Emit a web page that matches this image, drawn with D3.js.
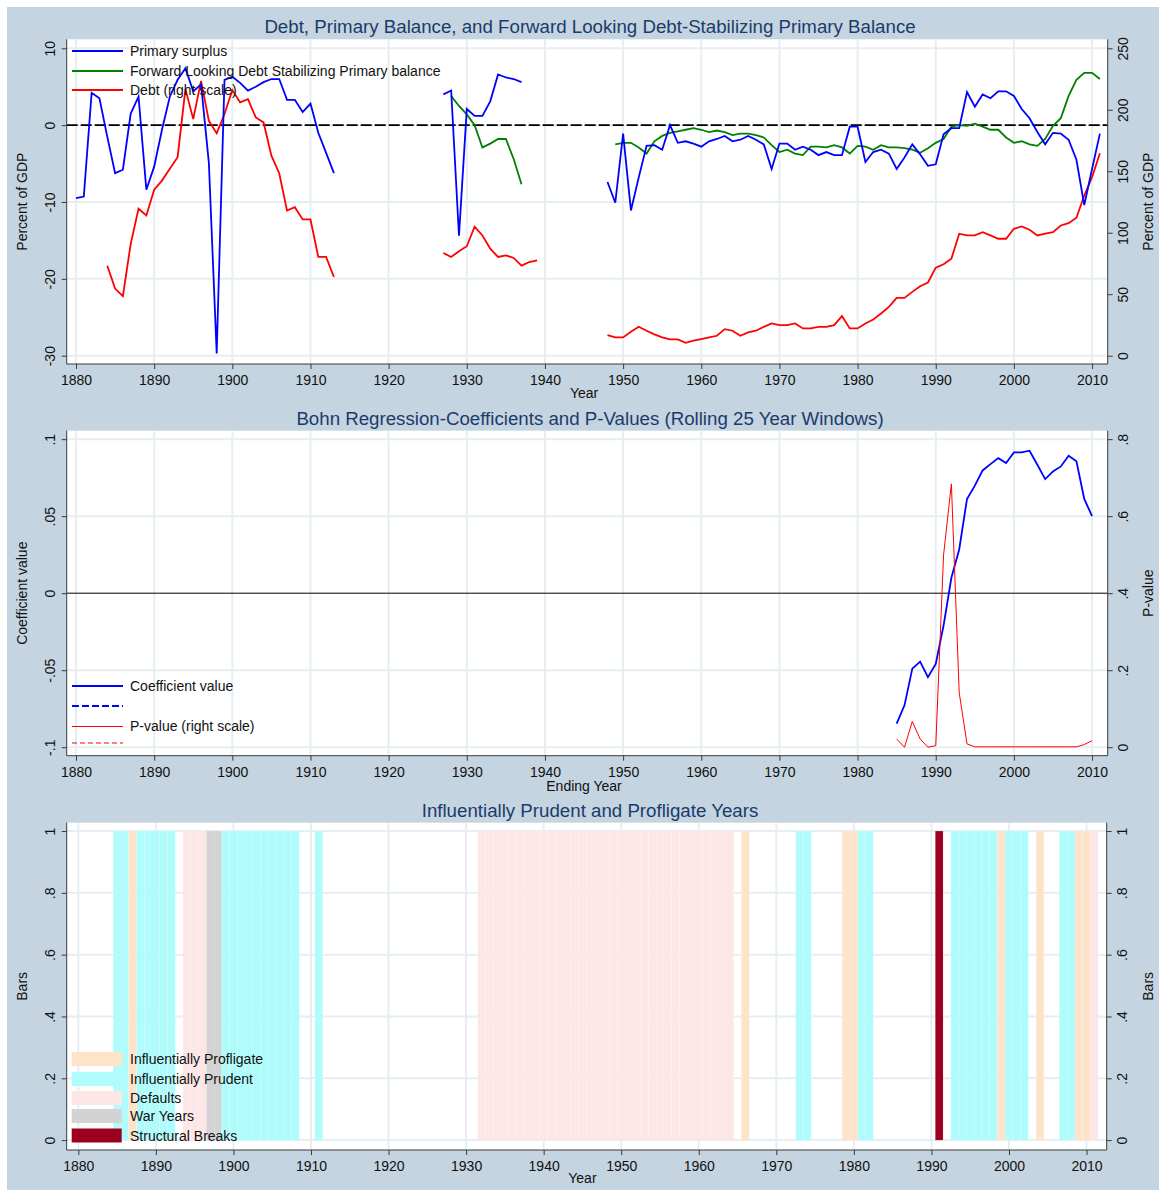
<!DOCTYPE html>
<html><head><meta charset="utf-8">
<script src="https://cdn.jsdelivr.net/npm/d3@7"></script>
<style>
body{margin:0;background:#fff;}
svg{display:block;}
text{font-family:"Liberation Sans",Arial,Helvetica,sans-serif;}
</style>
</head><body>
<svg id="chart" width="1159" height="1190"></svg>
<script>
// ---------------- DATA ----------------
const yearStart = 1880; // first year of the annual series below (1880..2011)

const primarySurplus = [
 -9.5,-9.3,4.2,3.5,-1.5,-6.25,-5.8,1.5,3.7,-8.4,            // 1880-1889
 -5.4,-0.6,3.7,5.9,7.4,4.4,5.3,-4.9,-29.7,5.9,               // 1890-1899
 6.3,5.5,4.5,5.0,5.6,6.0,6.0,3.3,3.3,1.7,                    // 1900-1909
 2.8,-1.0,-3.6,-6.25,null,null,null,null,null,null,          // 1910-1919
 null,null,null,null,null,null,null,4.0,4.5,-14.4,           // 1920-1929
 2.1,1.2,1.2,3.1,6.6,6.2,6.0,5.6,null,null,                  // 1930-1939
 null,null,null,null,null,null,null,null,-7.4,-10.1,         // 1940-1949
 -1.1,-11.1,-6.8,-2.7,-2.6,-3.2,0,-2.3,-2.1,-2.4,            // 1950-1959
 -2.8,-2.1,-1.8,-1.4,-2.1,-1.9,-1.4,-1.9,-2.5,-5.7,          // 1960-1969
 -2.4,-2.4,-3.2,-2.8,-3.2,-3.9,-3.5,-3.9,-3.9,-0.2,          // 1970-1979
 -0.2,-4.8,-3.5,-3.2,-3.7,-5.7,-4.2,-2.5,-3.8,-5.3,          // 1980-1989
 -5.1,-1.2,-0.4,-0.4,4.3,2.4,4.0,3.5,4.4,4.4,                // 1990-1999
 3.8,2.1,0.9,-0.9,-2.5,-1.0,-1.1,-1.9,-4.5,-10.4,            // 2000-2009
 -5.7,-1.1                                                   // 2010-2011
];

const forwardStabilizing = [
 null,null,null,null,null,null,null,null,null,null,          // 1880-1889
 null,null,null,null,null,null,null,null,null,null,          // 1890-1899
 null,null,null,null,null,null,null,null,null,null,          // 1900-1909
 null,null,null,null,null,null,null,null,null,null,          // 1910-1919
 null,null,null,null,null,null,null,null,3.8,2.5,            // 1920-1929
 1.4,0,-2.9,-2.4,-1.8,-1.8,-4.4,-7.7,null,null,              // 1930-1939
 null,null,null,null,null,null,null,null,null,-2.5,          // 1940-1949
 -2.3,-2.3,-2.9,-3.7,-2.1,-1.4,-1.0,-0.8,-0.6,-0.4,          // 1950-1959
 -0.6,-0.9,-0.7,-0.9,-1.3,-1.1,-1.1,-1.3,-1.6,-2.6,          // 1960-1969
 -3.5,-3.2,-3.7,-3.9,-2.8,-2.8,-2.9,-2.6,-2.9,-3.7,          // 1970-1979
 -2.7,-2.8,-3.2,-2.6,-2.9,-2.9,-3.0,-3.2,-3.6,-3.0,          // 1980-1989
 -2.3,-1.8,-0.2,0.0,-0.1,0.2,-0.2,-0.6,-0.6,-1.6,            // 1990-1999
 -2.3,-2.1,-2.5,-2.7,-1.8,-0.1,0.9,3.8,5.9,6.8,              // 2000-2009
 6.8,6.0                                                     // 2010-2011
];

const debtRatio = [
 null,null,null,null,73.2,54.6,48.4,91,119.5,114,            // 1880-1889
 135,142.4,152,161.4,216.8,192.4,223.5,191,180.8,196.5,      // 1890-1899
 216,206,208.6,193.8,189.7,162.7,148.4,118,120.8,110.8,      // 1900-1909
 110.8,80.3,80.3,64,null,null,null,null,null,null,           // 1910-1919
 null,null,null,null,null,null,null,83.5,80.3,85,            // 1920-1929
 89,105,97.8,87,80.3,81.6,79.5,73.2,76.2,77.6,               // 1930-1939
 null,null,null,null,null,null,null,null,16.8,14.9,          // 1940-1949
 14.9,19.5,23.5,20.3,17.3,14.9,13.2,13.2,10.5,12.2,          // 1950-1959
 13.5,14.9,16.2,21.6,20.3,16.2,18.9,20.3,23.5,26.2,          // 1960-1969
 24.9,24.9,26.2,22.2,22.2,23.5,23.5,24.9,32.2,22.2,          // 1970-1979
 22.2,26.2,29.5,34.3,39.7,47,47,51.9,56.5,59.5,              // 1980-1989
 71.6,74.3,78.9,99.2,97.8,97.8,100.5,97.8,95.1,95.1,         // 1990-1999
 103.2,105.1,102.4,97.8,99.2,100.5,105.9,107.8,112.2,130.3,  // 2000-2009
 145.1,164.6                                                 // 2010-2011
];

const rollingStart = 1985; // ending years of the rolling windows (1985..2010)
const bohnCoef = [
 -0.0847,-0.0728,-0.049,-0.0444,-0.0545,                     // 1985-1989
 -0.0459,-0.021,0.010,0.0284,0.0612,0.0698,0.0797,0.0838,0.0877,0.0845, // 1990-1999
 0.0914,0.0914,0.0925,0.0834,0.0741,0.0791,0.0823,0.0892,0.0856,0.0612, // 2000-2009
 0.05                                                        // 2010
];
const bohnPValue = [
 0.0215,0,0.067,0.0215,0,                                    // 1985-1989
 0.004,0.499,0.684,0.142,0.0086,0.001,0.001,0.001,0.001,0.001, // 1990-1999
 0.001,0.001,0.001,0.001,0.001,0.001,0.001,0.001,0.001,0.007,  // 2000-2009
 0.017                                                       // 2010
];

const profligateYears = [1887,1966,1979,1980,1999,2004,2009,2010];
const prudentYears = [1885,1886,1888,1889,1890,1891,1892,1899,1900,1901,1902,1903,1904,1905,1906,1907,1908,1911,
  1973,1974,1981,1982,1993,1994,1995,1996,1997,1998,2000,2001,2002,2007,2008];
const defaultYears = [1894,1895,1896,1932,1933,1934,1935,1936,1937,1938,1939,1940,1941,1942,1943,1944,1945,1946,1947,
  1948,1949,1950,1951,1952,1953,1954,1955,1956,1957,1958,1959,1960,1961,1962,1963,1964,2011];
const warYears = [1897,1898];
const breakYears = [1991];

const xTicks = [1880,1890,1900,1910,1920,1930,1940,1950,1960,1970,1980,1990,2000,2010];
const topLeftTicks = [-30,-20,-10,0,10];
const topRightTicks = [0,50,100,150,200,250];
const midLeftTicks = [-0.1,-0.05,0,0.05,0.1];
const midLeftLabels = ["-.1","-.05","0",".05",".1"];
const midRightTicks = [0,0.2,0.4,0.6,0.8];
const midRightLabels = ["0",".2",".4",".6",".8"];
const barTicks = [0,0.2,0.4,0.6,0.8,1];
const barLabels = ["0",".2",".4",".6",".8","1"];

// ---------------- STYLE ----------------
const BG = "rgb(196,212,224)";
const GRID = "#e6eef2";
const AXIS = "#3a3a3a";
const TITLE = "#1c3b6b";
const BLUE = "#0000ff", GREEN = "#008000", RED = "#ff0000";
const C_PROF = "#ffe3c9", C_PRUD = "#b0fcfc", C_DEF = "#fde6e6", C_WAR = "#d3d3d3", C_BRK = "#9b0020";

const svg = d3.select("#chart");
svg.append("rect").attr("x",0).attr("y",0).attr("width",1159).attr("height",1190).attr("fill","#fff");
svg.append("rect").attr("x",7).attr("y",7).attr("width",1152).attr("height",1183).attr("fill",BG);

function series(arr, start){ return arr.map((v,i)=>({year:start+i, v:v})); }

function panelFrame(o){
  const g = svg.append("g");
  g.append("rect").attr("x",o.left).attr("y",o.top).attr("width",o.right-o.left).attr("height",o.bottom-o.top).attr("fill","#fff");
  g.selectAll(".vg").data(xTicks).join("line")
    .attr("x1",d=>o.x(d)).attr("x2",d=>o.x(d)).attr("y1",o.top).attr("y2",o.bottom)
    .attr("stroke",GRID).attr("stroke-width",2);
  g.selectAll(".hg").data(o.gridY).join("line")
    .attr("x1",o.left).attr("x2",o.right).attr("y1",d=>o.yL(d)).attr("y2",d=>o.yL(d))
    .attr("stroke",GRID).attr("stroke-width",2);
  svg.append("text").attr("x",590).attr("y",o.titleY).attr("text-anchor","middle")
    .attr("font-size",18.7).attr("fill",TITLE).text(o.title);
  return g;
}

function drawAxes(o){
  const gx = svg.append("g").attr("transform",`translate(0,${o.bottom})`)
    .call(d3.axisBottom(o.x).tickValues(xTicks).tickFormat(d3.format("d")).tickSize(5).tickPadding(6).tickSizeOuter(0));
  gx.select(".domain").attr("d",`M${o.left},0H${o.right}`);
  const gl = svg.append("g").attr("transform",`translate(${o.left},0)`)
    .call(d3.axisLeft(o.yL).tickValues(o.lTicks).tickFormat((d,i)=>o.lLabels[i]).tickSize(5).tickSizeOuter(0));
  gl.select(".domain").attr("d",`M0,${o.top}V${o.bottom}`);
  gl.selectAll(".tick text").attr("transform","rotate(-90)").attr("x",0).attr("y",-12).attr("dy",null).attr("text-anchor","middle");
  const gr = svg.append("g").attr("transform",`translate(${o.right},0)`)
    .call(d3.axisRight(o.yR).tickValues(o.rTicks).tickFormat((d,i)=>o.rLabels[i]).tickSize(5).tickSizeOuter(0));
  gr.select(".domain").attr("d",`M0,${o.top}V${o.bottom}`);
  gr.selectAll(".tick text").attr("transform","rotate(-90)").attr("x",0).attr("y",20).attr("dy",null).attr("text-anchor","middle");
  [gx,gl,gr].forEach(a=>{
    a.attr("font-family",null).attr("font-size",null);
    a.selectAll("text").attr("font-size",14).attr("fill","#111");
    a.selectAll("line").attr("stroke",AXIS);
    a.select(".domain").attr("stroke",AXIS);
  });
  const cy = (o.top+o.bottom)/2;
  svg.append("text").attr("transform",`translate(27,${cy}) rotate(-90)`).attr("text-anchor","middle")
    .attr("font-size",14).attr("fill","#111").text(o.yLTitle);
  svg.append("text").attr("transform",`translate(1153,${cy}) rotate(-90)`).attr("text-anchor","middle")
    .attr("font-size",14).attr("fill","#111").text(o.yRTitle);
  svg.append("text").attr("x",(o.x(1880)+o.x(2010))/2).attr("y",o.xTitleY).attr("text-anchor","middle")
    .attr("font-size",14).attr("fill","#111").text(o.xTitle);
}

// ---------------- PANEL 1 ----------------
{
  const top=39.3, bottom=364, left=66.7, right=1107.7;
  const x = d3.scaleLinear().domain([1878.81,2012.0]).range([left,right]);
  const yL = d3.scaleLinear().domain([-31.08,11.17]).range([bottom,top]);
  const yR = d3.scaleLinear().domain([-6.75,257.3]).range([bottom,top]);
  const o = {x,yL,yR,top,bottom,left,right,gridY:topLeftTicks,
    title:"Debt, Primary Balance, and Forward Looking Debt-Stabilizing Primary Balance",titleY:32.5};
  const g = panelFrame(o);
  g.append("line").attr("x1",left).attr("x2",right).attr("y1",yL(0)).attr("y2",yL(0))
    .attr("stroke","#000").attr("stroke-width",1.6).attr("stroke-dasharray","11,3");
  const lineL = d3.line().defined(d=>d.v!==null).x(d=>x(d.year)).y(d=>yL(d.v));
  const lineR = d3.line().defined(d=>d.v!==null).x(d=>x(d.year)).y(d=>yR(d.v));
  g.append("path").datum(series(debtRatio,yearStart)).attr("d",lineR).attr("fill","none").attr("stroke",RED).attr("stroke-width",1.8);
  g.append("path").datum(series(forwardStabilizing,yearStart)).attr("d",lineL).attr("fill","none").attr("stroke",GREEN).attr("stroke-width",1.8);
  g.append("path").datum(series(primarySurplus,yearStart)).attr("d",lineL).attr("fill","none").attr("stroke",BLUE).attr("stroke-width",1.8);
  drawAxes({...o,lTicks:topLeftTicks,lLabels:topLeftTicks.map(String),rTicks:topRightTicks,rLabels:topRightTicks.map(String),
    xTitle:"Year",xTitleY:398,yLTitle:"Percent of GDP",yRTitle:"Percent of GDP"});
  const leg = [["Primary surplus",BLUE,51],["Forward Looking Debt Stabilizing Primary balance",GREEN,71],["Debt (right scale)",RED,90]];
  leg.forEach(([t,c,yy])=>{
    svg.append("line").attr("x1",72).attr("x2",123).attr("y1",yy).attr("y2",yy).attr("stroke",c).attr("stroke-width",1.8);
    svg.append("text").attr("x",130).attr("y",yy+5).attr("font-size",14).attr("fill","#111").text(t);
  });
}

// ---------------- PANEL 2 ----------------
{
  const top=430.7, bottom=755.7, left=66.7, right=1107.7;
  const x = d3.scaleLinear().domain([1878.81,2012.0]).range([left,right]);
  const yL = d3.scaleLinear().domain([-0.1055,0.1055]).range([bottom,top]);
  const yR = d3.scaleLinear().domain([-0.022,0.822]).range([bottom,top]);
  const o = {x,yL,yR,top,bottom,left,right,gridY:[-0.1,-0.05,0.05,0.1],
    title:"Bohn Regression-Coefficients and P-Values (Rolling 25 Year Windows)",titleY:425};
  const g = panelFrame(o);
  g.append("line").attr("x1",left).attr("x2",right).attr("y1",yL(0)).attr("y2",yL(0)).attr("stroke","#000").attr("stroke-width",1);
  g.append("path").datum(series(bohnCoef,rollingStart))
    .attr("d",d3.line().x(d=>x(d.year)).y(d=>yL(d.v))).attr("fill","none").attr("stroke",BLUE).attr("stroke-width",1.8);
  g.append("path").datum(series(bohnPValue,rollingStart))
    .attr("d",d3.line().x(d=>x(d.year)).y(d=>yR(d.v))).attr("fill","none").attr("stroke",RED).attr("stroke-width",1);
  drawAxes({...o,lTicks:midLeftTicks,lLabels:midLeftLabels,rTicks:midRightTicks,rLabels:midRightLabels,
    xTitle:"Ending Year",xTitleY:791,yLTitle:"Coefficient value",yRTitle:"P-value"});
  svg.append("line").attr("x1",72).attr("x2",123).attr("y1",686).attr("y2",686).attr("stroke",BLUE).attr("stroke-width",1.8);
  svg.append("text").attr("x",130).attr("y",691).attr("font-size",14).attr("fill","#111").text("Coefficient value");
  svg.append("line").attr("x1",72).attr("x2",123).attr("y1",706).attr("y2",706).attr("stroke",BLUE).attr("stroke-width",1.8).attr("stroke-dasharray","7,3");
  svg.append("line").attr("x1",72).attr("x2",123).attr("y1",726.5).attr("y2",726.5).attr("stroke",RED).attr("stroke-width",1);
  svg.append("text").attr("x",130).attr("y",731).attr("font-size",14).attr("fill","#111").text("P-value (right scale)");
  svg.append("line").attr("x1",72).attr("x2",123).attr("y1",743).attr("y2",743).attr("stroke",RED).attr("stroke-width",1.2).attr("stroke-dasharray","5,3");
}

// ---------------- PANEL 3 ----------------
{
  const top=822.7, bottom=1150, left=66.7, right=1106.7;
  const x = d3.scaleLinear().domain([1878.5,2012.6]).range([left,right]);
  const yL = d3.scaleLinear().domain([-0.032,1.027]).range([bottom,top]);
  const o = {x,yL,yR:yL,top,bottom,left,right,gridY:barTicks,
    title:"Influentially Prudent and Profligate Years",titleY:817};
  const g = panelFrame(o);
  const groups = [[defaultYears,C_DEF],[warYears,C_WAR],[prudentYears,C_PRUD],[profligateYears,C_PROF],[breakYears,C_BRK]];
  groups.forEach(([yrs,c])=>{
    g.selectAll(null).data(yrs).join("rect")
      .attr("x",d=>x(d-0.5)).attr("width",d=>x(d+0.5)-x(d-0.5))
      .attr("y",yL(1)).attr("height",yL(0)-yL(1))
      .attr("fill",c).attr("stroke","rgba(255,255,255,0.22)").attr("stroke-width",0.5);
  });
  drawAxes({...o,lTicks:barTicks,lLabels:barLabels,rTicks:barTicks,rLabels:barLabels,
    xTitle:"Year",xTitleY:1183,yLTitle:"Bars",yRTitle:"Bars"});
  const leg = [["Influentially Profligate",C_PROF,1059],["Influentially Prudent",C_PRUD,1079],["Defaults",C_DEF,1098],["War Years",C_WAR,1116],["Structural Breaks",C_BRK,1135.5]];
  leg.forEach(([t,c,yy])=>{
    svg.append("rect").attr("x",71.7).attr("y",yy-7).attr("width",50).attr("height",14).attr("fill",c);
    svg.append("text").attr("x",130).attr("y",yy+5).attr("font-size",14).attr("fill","#111").text(t);
  });
}
</script>
</body></html>
